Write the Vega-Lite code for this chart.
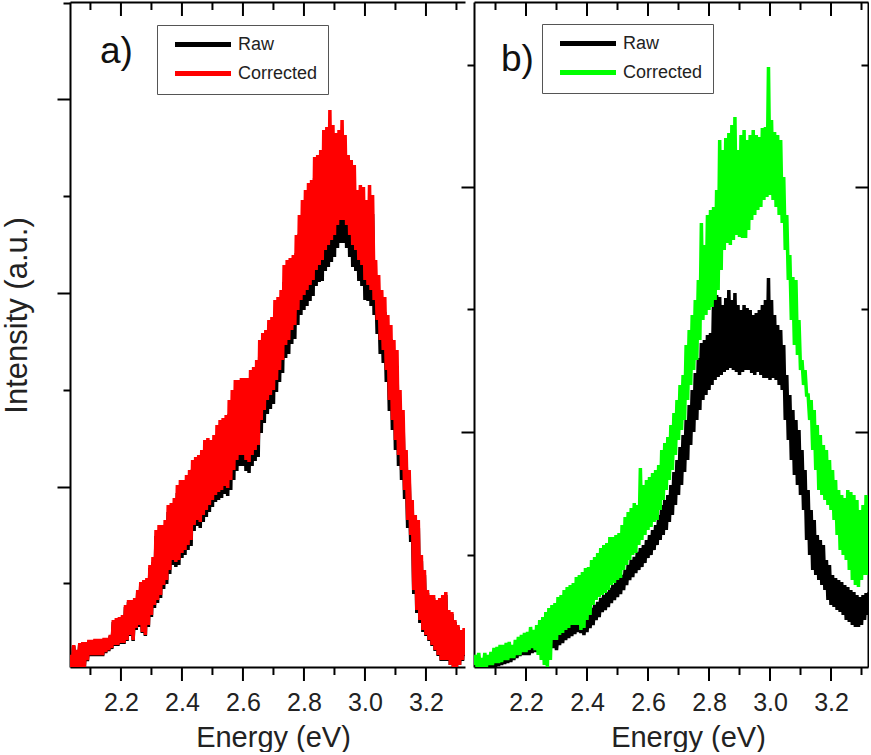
{
"$schema":"https://vega.github.io/schema/vega-lite/v6.json",
"padding":{"left":1,"top":1,"right":0,"bottom":0},
"background":"white",
"bounds":"flush",
"spacing":9,
"resolve":{"scale":{"color":"independent"}},
"config":{"font":"Liberation Sans","view":{"stroke":null},
"axis":{"domainColor":"#000","domainWidth":2,"tickColor":"#000","tickWidth":2,"grid":false,"labelFont":"Liberation Sans","titleFont":"Liberation Sans","labelColor":"#222","titleColor":"#222","titleFontWeight":"normal"},
"legend":{"labelFont":"Liberation Sans"}},
"datasets":{
"ticks":[{"t":2.1,"m":0},{"t":2.2,"m":1},{"t":2.3,"m":0},{"t":2.4,"m":1},{"t":2.5,"m":0},{"t":2.6,"m":1},{"t":2.7,"m":0},{"t":2.8,"m":1},{"t":2.9,"m":0},{"t":3.0,"m":1},{"t":3.1,"m":0},{"t":3.2,"m":1},{"t":3.3,"m":0}],
"a":[
{"e":2.030,"Raw":13,"Corrected":13},{"e":2.035,"Raw":24,"Corrected":25},{"e":2.040,"Raw":13,"Corrected":13},{"e":2.045,"Raw":34,"Corrected":35},{"e":2.050,"Raw":13,"Corrected":13},{"e":2.055,"Raw":29,"Corrected":30},{"e":2.060,"Raw":13,"Corrected":13},{"e":2.065,"Raw":36,"Corrected":37},{"e":2.070,"Raw":13,"Corrected":13},{"e":2.075,"Raw":37,"Corrected":38},{"e":2.080,"Raw":13,"Corrected":13},{"e":2.085,"Raw":37,"Corrected":38},{"e":2.090,"Raw":19,"Corrected":20},{"e":2.095,"Raw":39,"Corrected":40},{"e":2.100,"Raw":24,"Corrected":25},{"e":2.105,"Raw":39,"Corrected":40},{"e":2.110,"Raw":24,"Corrected":25},{"e":2.115,"Raw":40,"Corrected":41},{"e":2.120,"Raw":24,"Corrected":25},{"e":2.125,"Raw":40,"Corrected":41},{"e":2.130,"Raw":24,"Corrected":25},{"e":2.135,"Raw":40,"Corrected":41},{"e":2.140,"Raw":24,"Corrected":25},{"e":2.145,"Raw":41,"Corrected":42},{"e":2.150,"Raw":27,"Corrected":28},{"e":2.155,"Raw":41,"Corrected":42},{"e":2.160,"Raw":29,"Corrected":30},{"e":2.165,"Raw":44,"Corrected":45},{"e":2.170,"Raw":31,"Corrected":32},{"e":2.175,"Raw":58,"Corrected":60},{"e":2.180,"Raw":34,"Corrected":35},{"e":2.185,"Raw":60,"Corrected":62},{"e":2.190,"Raw":34,"Corrected":35},{"e":2.195,"Raw":61,"Corrected":63},{"e":2.200,"Raw":36,"Corrected":37},{"e":2.205,"Raw":63,"Corrected":65},{"e":2.210,"Raw":36,"Corrected":37},{"e":2.215,"Raw":73,"Corrected":75},{"e":2.220,"Raw":39,"Corrected":40},{"e":2.225,"Raw":78,"Corrected":80},{"e":2.230,"Raw":44,"Corrected":45},{"e":2.235,"Raw":78,"Corrected":80},{"e":2.240,"Raw":39,"Corrected":40},{"e":2.245,"Raw":80,"Corrected":82},{"e":2.250,"Raw":50,"Corrected":52},{"e":2.255,"Raw":87,"Corrected":90},{"e":2.260,"Raw":53,"Corrected":55},{"e":2.265,"Raw":95,"Corrected":98},{"e":2.270,"Raw":47,"Corrected":48},{"e":2.275,"Raw":97,"Corrected":100},{"e":2.280,"Raw":44,"Corrected":45},{"e":2.285,"Raw":99,"Corrected":102},{"e":2.290,"Raw":53,"Corrected":55},{"e":2.295,"Raw":112,"Corrected":115},{"e":2.300,"Raw":63,"Corrected":65},
{"e":2.305,"Raw":118,"Corrected":123},{"e":2.310,"Raw":72,"Corrected":75},{"e":2.315,"Raw":144,"Corrected":150},{"e":2.320,"Raw":77,"Corrected":80},{"e":2.325,"Raw":149,"Corrected":155},{"e":2.330,"Raw":82,"Corrected":85},{"e":2.335,"Raw":149,"Corrected":155},{"e":2.340,"Raw":91,"Corrected":95},{"e":2.345,"Raw":154,"Corrected":160},{"e":2.350,"Raw":96,"Corrected":100},{"e":2.355,"Raw":168,"Corrected":175},{"e":2.360,"Raw":106,"Corrected":110},{"e":2.365,"Raw":170,"Corrected":177},{"e":2.370,"Raw":115,"Corrected":120},{"e":2.375,"Raw":175,"Corrected":182},{"e":2.380,"Raw":113,"Corrected":118},{"e":2.385,"Raw":187,"Corrected":195},{"e":2.390,"Raw":115,"Corrected":120},{"e":2.395,"Raw":192,"Corrected":200},{"e":2.400,"Raw":122,"Corrected":127},{"e":2.405,"Raw":192,"Corrected":200},{"e":2.410,"Raw":125,"Corrected":130},{"e":2.415,"Raw":197,"Corrected":205},{"e":2.420,"Raw":130,"Corrected":135},{"e":2.425,"Raw":202,"Corrected":210},{"e":2.430,"Raw":134,"Corrected":140},{"e":2.435,"Raw":211,"Corrected":220},{"e":2.440,"Raw":149,"Corrected":155},{"e":2.445,"Raw":214,"Corrected":223},{"e":2.450,"Raw":154,"Corrected":160},{"e":2.455,"Raw":216,"Corrected":225},{"e":2.460,"Raw":152,"Corrected":158},{"e":2.465,"Raw":221,"Corrected":230},{"e":2.470,"Raw":158,"Corrected":165},{"e":2.475,"Raw":230,"Corrected":240},{"e":2.480,"Raw":163,"Corrected":170},{"e":2.485,"Raw":232,"Corrected":242},{"e":2.490,"Raw":168,"Corrected":175},{"e":2.495,"Raw":230,"Corrected":240},{"e":2.500,"Raw":173,"Corrected":180},{"e":2.505,"Raw":235,"Corrected":245},{"e":2.510,"Raw":178,"Corrected":185},{"e":2.515,"Raw":245,"Corrected":255},{"e":2.520,"Raw":180,"Corrected":188},{"e":2.525,"Raw":250,"Corrected":260},{"e":2.530,"Raw":182,"Corrected":190},{"e":2.535,"Raw":252,"Corrected":262},{"e":2.540,"Raw":186,"Corrected":194},{"e":2.545,"Raw":254,"Corrected":265},{"e":2.550,"Raw":184,"Corrected":192},
{"e":2.555,"Raw":266,"Corrected":280},{"e":2.560,"Raw":190,"Corrected":200},{"e":2.565,"Raw":276,"Corrected":290},{"e":2.570,"Raw":200,"Corrected":210},{"e":2.575,"Raw":285,"Corrected":300},{"e":2.580,"Raw":209,"Corrected":220},{"e":2.585,"Raw":285,"Corrected":300},{"e":2.590,"Raw":214,"Corrected":225},{"e":2.595,"Raw":287,"Corrected":302},{"e":2.600,"Raw":214,"Corrected":225},{"e":2.605,"Raw":287,"Corrected":302},{"e":2.610,"Raw":209,"Corrected":220},{"e":2.615,"Raw":287,"Corrected":302},{"e":2.620,"Raw":207,"Corrected":218},{"e":2.625,"Raw":295,"Corrected":310},{"e":2.630,"Raw":214,"Corrected":225},{"e":2.635,"Raw":297,"Corrected":313},{"e":2.640,"Raw":219,"Corrected":230},{"e":2.645,"Raw":304,"Corrected":320},{"e":2.650,"Raw":223,"Corrected":235},{"e":2.655,"Raw":323,"Corrected":340},{"e":2.660,"Raw":247,"Corrected":260},{"e":2.665,"Raw":330,"Corrected":347},{"e":2.670,"Raw":257,"Corrected":270},{"e":2.675,"Raw":333,"Corrected":350},{"e":2.680,"Raw":266,"Corrected":280},{"e":2.685,"Raw":342,"Corrected":360},{"e":2.690,"Raw":271,"Corrected":285},{"e":2.695,"Raw":345,"Corrected":363},{"e":2.700,"Raw":276,"Corrected":290},
{"e":2.705,"Raw":365,"Corrected":380},{"e":2.710,"Raw":288,"Corrected":300},{"e":2.715,"Raw":368,"Corrected":383},{"e":2.720,"Raw":298,"Corrected":310},{"e":2.725,"Raw":374,"Corrected":390},{"e":2.730,"Raw":307,"Corrected":320},{"e":2.735,"Raw":398,"Corrected":415},{"e":2.740,"Raw":322,"Corrected":335},{"e":2.745,"Raw":403,"Corrected":420},{"e":2.750,"Raw":326,"Corrected":340},{"e":2.755,"Raw":405,"Corrected":422},{"e":2.760,"Raw":336,"Corrected":350},{"e":2.765,"Raw":408,"Corrected":425},{"e":2.770,"Raw":341,"Corrected":355},{"e":2.775,"Raw":427,"Corrected":445},{"e":2.780,"Raw":355,"Corrected":370},{"e":2.785,"Raw":446,"Corrected":465},{"e":2.790,"Raw":365,"Corrected":380},{"e":2.795,"Raw":461,"Corrected":480},{"e":2.800,"Raw":370,"Corrected":385},{"e":2.805,"Raw":470,"Corrected":490},{"e":2.810,"Raw":374,"Corrected":390},{"e":2.815,"Raw":477,"Corrected":497},{"e":2.820,"Raw":379,"Corrected":395},{"e":2.825,"Raw":480,"Corrected":500},{"e":2.830,"Raw":384,"Corrected":400},{"e":2.835,"Raw":502,"Corrected":523},{"e":2.840,"Raw":394,"Corrected":410},{"e":2.845,"Raw":504,"Corrected":525},{"e":2.850,"Raw":398,"Corrected":415},
{"e":2.855,"Raw":504,"Corrected":530},{"e":2.860,"Raw":399,"Corrected":420},{"e":2.865,"Raw":523,"Corrected":550},{"e":2.870,"Raw":409,"Corrected":430},{"e":2.875,"Raw":525,"Corrected":553},{"e":2.880,"Raw":413,"Corrected":435},{"e":2.885,"Raw":542,"Corrected":570},{"e":2.890,"Raw":418,"Corrected":440},{"e":2.895,"Raw":527,"Corrected":555},{"e":2.900,"Raw":423,"Corrected":445},{"e":2.905,"Raw":520,"Corrected":547},{"e":2.910,"Raw":432,"Corrected":455},{"e":2.915,"Raw":523,"Corrected":550},{"e":2.920,"Raw":437,"Corrected":460},{"e":2.925,"Raw":532,"Corrected":560},{"e":2.930,"Raw":437,"Corrected":460},{"e":2.935,"Raw":518,"Corrected":545},{"e":2.940,"Raw":432,"Corrected":455},{"e":2.945,"Raw":499,"Corrected":525},{"e":2.950,"Raw":423,"Corrected":445},{"e":2.955,"Raw":494,"Corrected":520},{"e":2.960,"Raw":413,"Corrected":435},{"e":2.965,"Raw":489,"Corrected":515},{"e":2.970,"Raw":409,"Corrected":430},{"e":2.975,"Raw":466,"Corrected":490},{"e":2.980,"Raw":399,"Corrected":420},{"e":2.985,"Raw":470,"Corrected":495},{"e":2.990,"Raw":394,"Corrected":415},{"e":2.995,"Raw":468,"Corrected":493},{"e":3.000,"Raw":380,"Corrected":400},
{"e":3.005,"Raw":461,"Corrected":480},{"e":3.010,"Raw":379,"Corrected":395},{"e":3.015,"Raw":475,"Corrected":495},{"e":3.020,"Raw":374,"Corrected":390},{"e":3.025,"Raw":466,"Corrected":485},{"e":3.030,"Raw":365,"Corrected":380},{"e":3.035,"Raw":403,"Corrected":420},{"e":3.040,"Raw":346,"Corrected":360},{"e":3.045,"Raw":389,"Corrected":405},{"e":3.050,"Raw":326,"Corrected":340},{"e":3.055,"Raw":374,"Corrected":390},{"e":3.060,"Raw":317,"Corrected":330},{"e":3.065,"Raw":368,"Corrected":383},{"e":3.070,"Raw":298,"Corrected":310},{"e":3.075,"Raw":350,"Corrected":365},{"e":3.080,"Raw":269,"Corrected":280},{"e":3.085,"Raw":341,"Corrected":355},{"e":3.090,"Raw":250,"Corrected":260},{"e":3.095,"Raw":326,"Corrected":340},{"e":3.100,"Raw":230,"Corrected":240},
{"e":3.105,"Raw":314,"Corrected":330},{"e":3.110,"Raw":214,"Corrected":225},{"e":3.115,"Raw":276,"Corrected":290},{"e":3.120,"Raw":200,"Corrected":210},{"e":3.125,"Raw":257,"Corrected":270},{"e":3.130,"Raw":181,"Corrected":190},{"e":3.135,"Raw":219,"Corrected":230},{"e":3.140,"Raw":152,"Corrected":160},{"e":3.145,"Raw":200,"Corrected":210},{"e":3.150,"Raw":138,"Corrected":145},{"e":3.155,"Raw":171,"Corrected":180},{"e":3.160,"Raw":86,"Corrected":90},{"e":3.165,"Raw":157,"Corrected":165},{"e":3.170,"Raw":67,"Corrected":70},{"e":3.175,"Raw":152,"Corrected":160},{"e":3.180,"Raw":57,"Corrected":60},{"e":3.185,"Raw":119,"Corrected":125},{"e":3.190,"Raw":48,"Corrected":50},{"e":3.195,"Raw":105,"Corrected":110},{"e":3.200,"Raw":44,"Corrected":45},
{"e":3.205,"Raw":87,"Corrected":90},{"e":3.210,"Raw":39,"Corrected":40},{"e":3.215,"Raw":82,"Corrected":85},{"e":3.220,"Raw":34,"Corrected":35},{"e":3.225,"Raw":82,"Corrected":85},{"e":3.230,"Raw":29,"Corrected":30},{"e":3.235,"Raw":78,"Corrected":80},{"e":3.240,"Raw":24,"Corrected":25},{"e":3.245,"Raw":80,"Corrected":82},{"e":3.250,"Raw":19,"Corrected":20},{"e":3.255,"Raw":82,"Corrected":85},{"e":3.260,"Raw":19,"Corrected":20},{"e":3.265,"Raw":85,"Corrected":88},{"e":3.270,"Raw":19,"Corrected":20},{"e":3.275,"Raw":68,"Corrected":70},{"e":3.280,"Raw":15,"Corrected":15},{"e":3.285,"Raw":66,"Corrected":68},{"e":3.290,"Raw":13,"Corrected":13},{"e":3.295,"Raw":58,"Corrected":60},{"e":3.300,"Raw":13,"Corrected":13},{"e":3.305,"Raw":53,"Corrected":55},{"e":3.310,"Raw":15,"Corrected":15},{"e":3.315,"Raw":49,"Corrected":50},{"e":3.320,"Raw":19,"Corrected":20},{"e":3.325,"Raw":50,"Corrected":52},{"e":3.330,"Raw":24,"Corrected":25}
],
"b":[
{"e":2.030,"Raw":9,"Corrected":12},{"e":2.035,"Raw":12,"Corrected":22},{"e":2.040,"Raw":9,"Corrected":9},{"e":2.045,"Raw":14,"Corrected":24},{"e":2.050,"Raw":9,"Corrected":9},{"e":2.055,"Raw":13,"Corrected":19},{"e":2.060,"Raw":9,"Corrected":9},{"e":2.065,"Raw":15,"Corrected":24},{"e":2.070,"Raw":9,"Corrected":10},{"e":2.075,"Raw":16,"Corrected":22},{"e":2.080,"Raw":9,"Corrected":12},{"e":2.085,"Raw":17,"Corrected":25},{"e":2.090,"Raw":10,"Corrected":12},{"e":2.095,"Raw":18,"Corrected":29},{"e":2.100,"Raw":10,"Corrected":14},{"e":2.105,"Raw":19,"Corrected":30},{"e":2.110,"Raw":11,"Corrected":14},{"e":2.115,"Raw":20,"Corrected":32},{"e":2.120,"Raw":12,"Corrected":15},{"e":2.125,"Raw":21,"Corrected":32},{"e":2.130,"Raw":13,"Corrected":17},{"e":2.135,"Raw":22,"Corrected":34},{"e":2.140,"Raw":14,"Corrected":17},{"e":2.145,"Raw":23,"Corrected":35},{"e":2.150,"Raw":15,"Corrected":19},{"e":2.155,"Raw":25,"Corrected":32},{"e":2.160,"Raw":17,"Corrected":19},{"e":2.165,"Raw":27,"Corrected":37},{"e":2.170,"Raw":19,"Corrected":22},{"e":2.175,"Raw":29,"Corrected":40},{"e":2.180,"Raw":21,"Corrected":22},{"e":2.185,"Raw":30,"Corrected":42},{"e":2.190,"Raw":22,"Corrected":25},{"e":2.195,"Raw":31,"Corrected":44},{"e":2.200,"Raw":22,"Corrected":25},{"e":2.205,"Raw":30,"Corrected":45},{"e":2.210,"Raw":22,"Corrected":27},{"e":2.215,"Raw":32,"Corrected":50},{"e":2.220,"Raw":24,"Corrected":29},{"e":2.225,"Raw":35,"Corrected":47},{"e":2.230,"Raw":25,"Corrected":27},{"e":2.235,"Raw":37,"Corrected":52},{"e":2.240,"Raw":27,"Corrected":22},{"e":2.245,"Raw":35,"Corrected":57},{"e":2.250,"Raw":27,"Corrected":17},{"e":2.255,"Raw":31,"Corrected":60},{"e":2.260,"Raw":25,"Corrected":12},{"e":2.265,"Raw":35,"Corrected":65},{"e":2.270,"Raw":29,"Corrected":10},{"e":2.275,"Raw":39,"Corrected":69},{"e":2.280,"Raw":30,"Corrected":17},{"e":2.285,"Raw":41,"Corrected":72},{"e":2.290,"Raw":29,"Corrected":37},{"e":2.295,"Raw":44,"Corrected":74},{"e":2.300,"Raw":27,"Corrected":37},
{"e":2.305,"Raw":45,"Corrected":80},{"e":2.310,"Raw":32,"Corrected":42},{"e":2.315,"Raw":47,"Corrected":82},{"e":2.320,"Raw":34,"Corrected":44},{"e":2.325,"Raw":49,"Corrected":87},{"e":2.330,"Raw":37,"Corrected":47},{"e":2.335,"Raw":50,"Corrected":90},{"e":2.340,"Raw":39,"Corrected":49},{"e":2.345,"Raw":52,"Corrected":92},{"e":2.350,"Raw":41,"Corrected":52},{"e":2.355,"Raw":55,"Corrected":94},{"e":2.360,"Raw":43,"Corrected":52},{"e":2.365,"Raw":57,"Corrected":100},{"e":2.370,"Raw":45,"Corrected":52},{"e":2.375,"Raw":59,"Corrected":102},{"e":2.380,"Raw":44,"Corrected":47},{"e":2.385,"Raw":60,"Corrected":105},{"e":2.390,"Raw":42,"Corrected":49},{"e":2.395,"Raw":62,"Corrected":109},{"e":2.400,"Raw":45,"Corrected":57},{"e":2.405,"Raw":65,"Corrected":110},{"e":2.410,"Raw":49,"Corrected":62},{"e":2.415,"Raw":69,"Corrected":117},{"e":2.420,"Raw":52,"Corrected":72},{"e":2.425,"Raw":72,"Corrected":120},{"e":2.430,"Raw":57,"Corrected":77},{"e":2.435,"Raw":75,"Corrected":124},{"e":2.440,"Raw":60,"Corrected":80},{"e":2.445,"Raw":79,"Corrected":129},{"e":2.450,"Raw":65,"Corrected":82},{"e":2.455,"Raw":82,"Corrected":132},{"e":2.460,"Raw":67,"Corrected":84},{"e":2.465,"Raw":85,"Corrected":134},{"e":2.470,"Raw":70,"Corrected":87},{"e":2.475,"Raw":89,"Corrected":140},{"e":2.480,"Raw":74,"Corrected":92},{"e":2.485,"Raw":92,"Corrected":140},{"e":2.490,"Raw":77,"Corrected":94},{"e":2.495,"Raw":97,"Corrected":142},{"e":2.500,"Raw":80,"Corrected":97},{"e":2.505,"Raw":99,"Corrected":144},{"e":2.510,"Raw":83,"Corrected":99},{"e":2.515,"Raw":102,"Corrected":152},{"e":2.520,"Raw":87,"Corrected":107},{"e":2.525,"Raw":107,"Corrected":160},{"e":2.530,"Raw":92,"Corrected":112},{"e":2.535,"Raw":112,"Corrected":165},{"e":2.540,"Raw":97,"Corrected":117},{"e":2.545,"Raw":117,"Corrected":169},{"e":2.550,"Raw":100,"Corrected":122},
{"e":2.555,"Raw":120,"Corrected":174},{"e":2.560,"Raw":104,"Corrected":124},{"e":2.565,"Raw":125,"Corrected":172},{"e":2.570,"Raw":107,"Corrected":132},{"e":2.575,"Raw":129,"Corrected":209},{"e":2.580,"Raw":110,"Corrected":137},{"e":2.585,"Raw":132,"Corrected":192},{"e":2.590,"Raw":114,"Corrected":142},{"e":2.595,"Raw":137,"Corrected":197},{"e":2.600,"Raw":119,"Corrected":147},{"e":2.605,"Raw":142,"Corrected":200},{"e":2.610,"Raw":122,"Corrected":150},{"e":2.615,"Raw":147,"Corrected":204},{"e":2.620,"Raw":127,"Corrected":155},{"e":2.625,"Raw":152,"Corrected":207},{"e":2.630,"Raw":132,"Corrected":157},{"e":2.635,"Raw":162,"Corrected":212},{"e":2.640,"Raw":137,"Corrected":167},{"e":2.645,"Raw":172,"Corrected":227},{"e":2.650,"Raw":142,"Corrected":177},{"e":2.655,"Raw":177,"Corrected":234},{"e":2.660,"Raw":147,"Corrected":187},{"e":2.665,"Raw":182,"Corrected":240},{"e":2.670,"Raw":155,"Corrected":197},{"e":2.675,"Raw":192,"Corrected":252},{"e":2.680,"Raw":162,"Corrected":207},{"e":2.685,"Raw":205,"Corrected":264},{"e":2.690,"Raw":172,"Corrected":222},{"e":2.695,"Raw":217,"Corrected":277},{"e":2.700,"Raw":182,"Corrected":237},
{"e":2.705,"Raw":230,"Corrected":292},{"e":2.710,"Raw":192,"Corrected":247},{"e":2.715,"Raw":242,"Corrected":302},{"e":2.720,"Raw":205,"Corrected":257},{"e":2.725,"Raw":257,"Corrected":332},{"e":2.730,"Raw":217,"Corrected":277},{"e":2.735,"Raw":272,"Corrected":347},{"e":2.740,"Raw":232,"Corrected":292},{"e":2.745,"Raw":287,"Corrected":362},{"e":2.750,"Raw":245,"Corrected":307},{"e":2.755,"Raw":304,"Corrected":377},{"e":2.760,"Raw":257,"Corrected":317},{"e":2.765,"Raw":319,"Corrected":397},{"e":2.770,"Raw":267,"Corrected":337},{"e":2.775,"Raw":334,"Corrected":454},{"e":2.780,"Raw":277,"Corrected":357},{"e":2.785,"Raw":337,"Corrected":432},{"e":2.790,"Raw":282,"Corrected":362},{"e":2.795,"Raw":342,"Corrected":462},{"e":2.800,"Raw":287,"Corrected":367},{"e":2.805,"Raw":344,"Corrected":467},{"e":2.810,"Raw":292,"Corrected":370},{"e":2.815,"Raw":377,"Corrected":470},{"e":2.820,"Raw":297,"Corrected":377},{"e":2.825,"Raw":382,"Corrected":487},{"e":2.830,"Raw":300,"Corrected":387},{"e":2.835,"Raw":380,"Corrected":537},{"e":2.840,"Raw":302,"Corrected":407},{"e":2.845,"Raw":372,"Corrected":527},{"e":2.850,"Raw":305,"Corrected":427},
{"e":2.855,"Raw":379,"Corrected":539},{"e":2.860,"Raw":307,"Corrected":434},{"e":2.865,"Raw":387,"Corrected":544},{"e":2.870,"Raw":309,"Corrected":432},{"e":2.875,"Raw":377,"Corrected":552},{"e":2.880,"Raw":307,"Corrected":437},{"e":2.885,"Raw":384,"Corrected":560},{"e":2.890,"Raw":305,"Corrected":442},{"e":2.895,"Raw":372,"Corrected":527},{"e":2.900,"Raw":302,"Corrected":440},{"e":2.905,"Raw":367,"Corrected":542},{"e":2.910,"Raw":305,"Corrected":439},{"e":2.915,"Raw":372,"Corrected":547},{"e":2.920,"Raw":307,"Corrected":439},{"e":2.925,"Raw":369,"Corrected":537},{"e":2.930,"Raw":307,"Corrected":447},{"e":2.935,"Raw":367,"Corrected":542},{"e":2.940,"Raw":304,"Corrected":457},{"e":2.945,"Raw":362,"Corrected":547},{"e":2.950,"Raw":302,"Corrected":462},{"e":2.955,"Raw":364,"Corrected":542},{"e":2.960,"Raw":305,"Corrected":467},{"e":2.965,"Raw":367,"Corrected":540},{"e":2.970,"Raw":302,"Corrected":470},{"e":2.975,"Raw":372,"Corrected":549},{"e":2.980,"Raw":299,"Corrected":477},{"e":2.985,"Raw":377,"Corrected":550},{"e":2.990,"Raw":299,"Corrected":480},{"e":2.995,"Raw":399,"Corrected":610},{"e":3.000,"Raw":297,"Corrected":482},
{"e":3.005,"Raw":377,"Corrected":557},{"e":3.010,"Raw":299,"Corrected":477},{"e":3.015,"Raw":362,"Corrected":545},{"e":3.020,"Raw":297,"Corrected":470},{"e":3.025,"Raw":352,"Corrected":542},{"e":3.030,"Raw":292,"Corrected":462},{"e":3.035,"Raw":347,"Corrected":537},{"e":3.040,"Raw":287,"Corrected":454},{"e":3.045,"Raw":332,"Corrected":500},{"e":3.050,"Raw":257,"Corrected":427},{"e":3.055,"Raw":302,"Corrected":462},{"e":3.060,"Raw":237,"Corrected":397},{"e":3.065,"Raw":282,"Corrected":422},{"e":3.070,"Raw":217,"Corrected":357},{"e":3.075,"Raw":267,"Corrected":400},{"e":3.080,"Raw":202,"Corrected":332},{"e":3.085,"Raw":257,"Corrected":397},{"e":3.090,"Raw":192,"Corrected":322},{"e":3.095,"Raw":247,"Corrected":357},{"e":3.100,"Raw":182,"Corrected":307},
{"e":3.105,"Raw":227,"Corrected":317},{"e":3.110,"Raw":167,"Corrected":292},{"e":3.115,"Raw":207,"Corrected":307},{"e":3.120,"Raw":137,"Corrected":282},{"e":3.125,"Raw":187,"Corrected":282},{"e":3.130,"Raw":122,"Corrected":257},{"e":3.135,"Raw":167,"Corrected":277},{"e":3.140,"Raw":107,"Corrected":227},{"e":3.145,"Raw":157,"Corrected":267},{"e":3.150,"Raw":102,"Corrected":207},{"e":3.155,"Raw":142,"Corrected":252},{"e":3.160,"Raw":97,"Corrected":187},{"e":3.165,"Raw":137,"Corrected":242},{"e":3.170,"Raw":92,"Corrected":182},{"e":3.175,"Raw":132,"Corrected":232},{"e":3.180,"Raw":87,"Corrected":177},{"e":3.185,"Raw":117,"Corrected":227},{"e":3.190,"Raw":77,"Corrected":172},{"e":3.195,"Raw":112,"Corrected":217},{"e":3.200,"Raw":72,"Corrected":167},
{"e":3.205,"Raw":102,"Corrected":207},{"e":3.210,"Raw":70,"Corrected":157},{"e":3.215,"Raw":99,"Corrected":197},{"e":3.220,"Raw":67,"Corrected":142},{"e":3.225,"Raw":97,"Corrected":187},{"e":3.230,"Raw":65,"Corrected":127},{"e":3.235,"Raw":95,"Corrected":182},{"e":3.240,"Raw":62,"Corrected":122},{"e":3.245,"Raw":92,"Corrected":179},{"e":3.250,"Raw":57,"Corrected":117},{"e":3.255,"Raw":90,"Corrected":187},{"e":3.260,"Raw":55,"Corrected":107},{"e":3.265,"Raw":87,"Corrected":185},{"e":3.270,"Raw":52,"Corrected":97},{"e":3.275,"Raw":85,"Corrected":182},{"e":3.280,"Raw":50,"Corrected":92},{"e":3.285,"Raw":82,"Corrected":177},{"e":3.290,"Raw":50,"Corrected":90},{"e":3.295,"Raw":80,"Corrected":167},{"e":3.300,"Raw":52,"Corrected":97},{"e":3.305,"Raw":82,"Corrected":172},{"e":3.310,"Raw":57,"Corrected":102},{"e":3.315,"Raw":84,"Corrected":182},{"e":3.320,"Raw":62,"Corrected":102},{"e":3.325,"Raw":85,"Corrected":180}
]},
"hconcat":[
{
"width":395,"height":665,
"layer":[
{"data":{"name":"a"},
"transform":[{"fold":["Raw","Corrected"],"as":["series","val"]}],
"mark":{"type":"line","strokeWidth":3.5,"clip":true},
"encoding":{
"x":{"field":"e","type":"quantitative","scale":{"domain":[2.033,3.328],"nice":false,"zero":false},
"axis":{"orient":"bottom","values":[2.2,2.4,2.6,2.8,3.0,3.2],"format":".1f","ticks":false,
"labelFontSize":25,"labelBaseline":"alphabetic","labelPadding":43,
"title":"Energy (eV)","titleFontSize":29,"titleBaseline":"alphabetic","titleAlign":"center","titleX":203,"titleY":79}},
"y":{"field":"val","type":"quantitative","scale":{"domain":[13,678],"nice":false,"zero":false},
"axis":{"orient":"left","values":[96.75,193.5,290.25,387,483.75,580.5,677.25],"labels":false,
"tickSize":{"condition":{"test":"abs(datum.value/193.5-round(datum.value/193.5))<0.01","value":13},"value":7},
"title":"Intensity (a.u.)","titleFontSize":31,"titleAngle":270,"titleX":-44,"titleY":313,"titleBaseline":"alphabetic","titleAlign":"center"}},
"color":{"field":"series","type":"nominal","scale":{"domain":["Raw","Corrected"],"range":["#000000","#ff0000"]},
"legend":{"orient":"none","legendX":87,"legendY":23,"title":null,"symbolType":"M-4,0H4","symbolSize":196,"symbolStrokeWidth":5,"labelFontSize":18,"labelColor":"#222","strokeColor":"#555","fillColor":"#ffffff","padding":10,"symbolOffset":26.5,"rowPadding":8,"labelOffset":25.5,"labelExpr":"datum.label + '\u00a0\u00a0'"}}
}},
{"data":{"values":[{"k":1}]},
"mark":{"type":"text","text":"a)","fontSize":37,"align":"left","baseline":"alphabetic","color":"#111"},
"encoding":{
"x":{"datum":2.1314,"type":"quantitative","axis":{"orient":"top","ticks":false,"labels":false,"title":null,"domain":true}},
"y":{"datum":617,"type":"quantitative","axis":null}
}},
{"data":{"name":"ticks"},"transform":[{"filter":"datum.m == 1"}],
"mark":{"type":"tick","orient":"vertical","thickness":2,"size":14,"color":"#000","opacity":1},
"encoding":{"x":{"field":"t","type":"quantitative","axis":null},"y":{"datum":6,"type":"quantitative","axis":null}}},
{"data":{"name":"ticks"},"transform":[{"filter":"datum.m == 0"}],
"mark":{"type":"tick","orient":"vertical","thickness":2,"size":8,"color":"#000","opacity":1},
"encoding":{"x":{"field":"t","type":"quantitative","axis":null},"y":{"datum":9,"type":"quantitative","axis":null}}},
{"data":{"name":"ticks"},"transform":[{"filter":"datum.m == 1"}],
"mark":{"type":"tick","orient":"vertical","thickness":2,"size":14,"color":"#000","opacity":1},
"encoding":{"x":{"field":"t","type":"quantitative","axis":null},"y":{"datum":671,"type":"quantitative","axis":null}}},
{"data":{"name":"ticks"},"transform":[{"filter":"datum.m == 0"}],
"mark":{"type":"tick","orient":"vertical","thickness":2,"size":8,"color":"#000","opacity":1},
"encoding":{"x":{"field":"t","type":"quantitative","axis":null},"y":{"datum":674,"type":"quantitative","axis":null}}}
],
"resolve":{"axis":{"x":"independent","y":"independent"}}
},
{
"width":394,"height":665,
"layer":[
{"data":{"name":"b"},
"transform":[{"fold":["Raw","Corrected"],"as":["series","val"]}],
"mark":{"type":"line","strokeWidth":3.5,"clip":true},
"encoding":{
"x":{"field":"e","type":"quantitative","scale":{"domain":[2.0295,3.3213],"nice":false,"zero":false},
"axis":{"orient":"bottom","values":[2.2,2.4,2.6,2.8,3.0,3.2],"format":".1f","ticks":false,
"labelFontSize":25,"labelBaseline":"alphabetic","labelPadding":43,
"title":"Energy (eV)","titleFontSize":29,"titleBaseline":"alphabetic","titleAlign":"center","titleX":214,"titleY":79}},
"y":{"field":"val","type":"quantitative","scale":{"domain":[10,675],"nice":false,"zero":false},
"axis":{"orient":"left","values":[122.5,245,367.5,490,612.5],"labels":false,"title":null,
"tickSize":{"condition":{"test":"abs(datum.value/245-round(datum.value/245))<0.01","value":13},"value":7}}},
"color":{"field":"series","type":"nominal","scale":{"domain":["Raw","Corrected"],"range":["#000000","#00ff00"]},
"legend":{"orient":"none","legendX":68,"legendY":22,"title":null,"symbolType":"M-4,0H4","symbolSize":196,"symbolStrokeWidth":5,"labelFontSize":18,"labelColor":"#222","strokeColor":"#555","fillColor":"#ffffff","padding":10,"symbolOffset":26.5,"rowPadding":8,"labelOffset":25.5,"labelExpr":"datum.label + '\u00a0\u00a0'"}}
}},
{"data":{"values":[{"k":1}]},
"mark":{"type":"text","text":"b)","fontSize":37,"align":"left","baseline":"alphabetic","color":"#111"},
"encoding":{
"x":{"datum":2.118,"type":"quantitative","axis":{"orient":"top","ticks":false,"labels":false,"title":null,"domain":true}},
"y":{"datum":606,"type":"quantitative","axis":{"orient":"right","values":[122.5,245,367.5,490,612.5],"labels":false,"title":null,
"tickSize":{"condition":{"test":"abs(datum.value/245-round(datum.value/245))<0.01","value":-13},"value":-7}}}
}},
{"data":{"name":"ticks"},"transform":[{"filter":"datum.m == 1"}],
"mark":{"type":"tick","orient":"vertical","thickness":2,"size":14,"color":"#000","opacity":1},
"encoding":{"x":{"field":"t","type":"quantitative","axis":null},"y":{"datum":3,"type":"quantitative","axis":null}}},
{"data":{"name":"ticks"},"transform":[{"filter":"datum.m == 0"}],
"mark":{"type":"tick","orient":"vertical","thickness":2,"size":8,"color":"#000","opacity":1},
"encoding":{"x":{"field":"t","type":"quantitative","axis":null},"y":{"datum":6,"type":"quantitative","axis":null}}},
{"data":{"name":"ticks"},"transform":[{"filter":"datum.m == 1"}],
"mark":{"type":"tick","orient":"vertical","thickness":2,"size":14,"color":"#000","opacity":1},
"encoding":{"x":{"field":"t","type":"quantitative","axis":null},"y":{"datum":668,"type":"quantitative","axis":null}}},
{"data":{"name":"ticks"},"transform":[{"filter":"datum.m == 0"}],
"mark":{"type":"tick","orient":"vertical","thickness":2,"size":8,"color":"#000","opacity":1},
"encoding":{"x":{"field":"t","type":"quantitative","axis":null},"y":{"datum":671,"type":"quantitative","axis":null}}}
],
"resolve":{"axis":{"x":"independent","y":"independent"}}
}
]
}
